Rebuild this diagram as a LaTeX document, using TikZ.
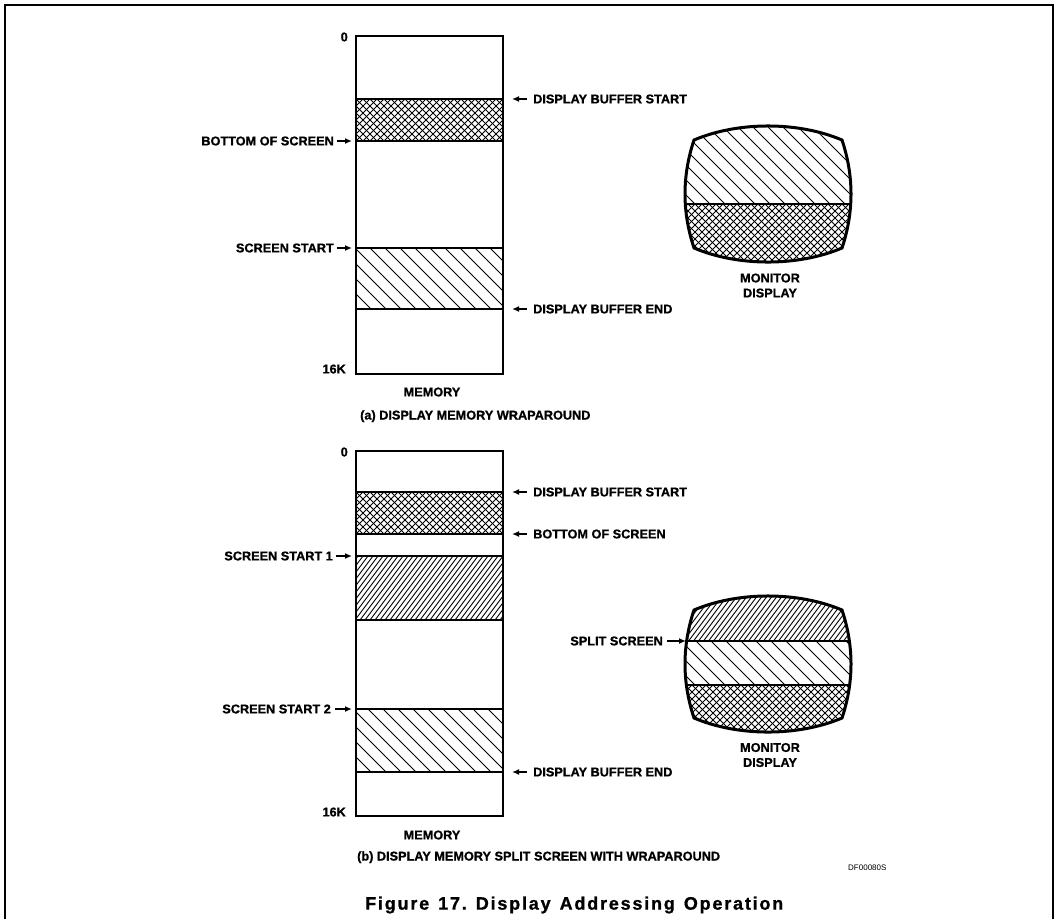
\documentclass[tikz,border=0pt]{standalone}
\usepackage{fontspec}
\setmainfont{Liberation Sans}
\newfontfamily\heavy{Liberation Sans}[BoldFeatures={FakeBold=1}]
\usetikzlibrary{arrows.meta}

% Fill a clipped region with parallel lines.
% #1 clip path, #2 xmin, #3 xmax, #4 ytop, #5 ybottom, #6 spacing, #7 slope (dx per dy)
\newcommand\hatchfill[7]{%
  \begin{scope}
    \clip #1;
    \pgfmathsetmacro\hH{#5-#4}%
    \pgfmathsetmacro\hS{abs(#7)*\hH+#6}%
    \pgfmathsetmacro\kA{#2-\hS}%
    \pgfmathsetmacro\kB{\kA+#6}%
    \pgfmathsetmacro\kC{#3+\hS}%
    \foreach \k in {\kA,\kB,...,\kC}
      \draw[hl] (\k,#4) -- ++({#7*\hH},\hH);
  \end{scope}}

% Rounded monitor face centred on (#1,#2)
\newcommand\tvpath[2]{(#1-74,#2-54) .. controls (#1-30,#2-72.7) and (#1+30,#2-72.7) .. (#1+74,#2-54)
  .. controls (#1+86,#2-18) and (#1+86,#2+18) .. (#1+74,#2+54)
  .. controls (#1+30,#2+72.7) and (#1-30,#2+72.7) .. (#1-74,#2+54)
  .. controls (#1-86,#2+18) and (#1-86,#2-18) .. cycle}

\begin{document}
\begin{tikzpicture}[x=1pt,y=-1pt,
  lab/.style={font=\fontsize{12.7}{15}\selectfont\heavy\bfseries, inner sep=0pt},
  small/.style={font=\fontsize{8}{9}\selectfont, inner sep=0pt},
  ptr/.style={-{Latex[length=7pt,width=6pt]}, line width=1.5pt},
  wall/.style={line width=1.7pt},
  tv/.style={line width=3pt},
  hl/.style={line width=0.9pt},
]
\useasboundingbox (0,0) rectangle (1056,919);

% outer frame, open at the bottom
\draw[line width=2pt] (5,919) -- (5,5) -- (1053,5) -- (1053,919);

% ---------------- (a) memory column ----------------
\hatchfill{(356,99) rectangle (503,141)}{356}{503}{99}{141}{7}{1}
\hatchfill{(356,99) rectangle (503,141)}{356}{503}{99}{141}{7}{-1}
\hatchfill{(356,248) rectangle (503,309)}{356}{503}{248}{309}{15}{1}
\draw[wall] (356,36) rectangle (503,374);
\draw[wall] (356,99) -- (503,99) (356,141) -- (503,141)
            (356,248) -- (503,248) (356,309) -- (503,309);

\node[lab, anchor=east] (a0) at (348,37) {0};
\node[lab, anchor=east] (a16) at (346,369) {16K};
\node[lab] (amem) at (432,392) {MEMORY};
\node[lab, anchor=base west] (acap) at (360,419.5) {(a) DISPLAY MEMORY WRAPAROUND};

\coordinate (a-dbs) at (503,99);
\coordinate (a-bos) at (356,141);
\coordinate (a-ss) at (356,248);
\coordinate (a-dbe) at (503,309);

\node[lab, anchor=west] (adbs) at (533,99) {DISPLAY BUFFER START};
\node[lab, anchor=east] (abos) at (334,141) {BOTTOM OF SCREEN};
\node[lab, anchor=east] (ass) at (334,248) {SCREEN START};
\node[lab, anchor=west] (adbe) at (533,309) {DISPLAY BUFFER END};

\draw[ptr] ([xshift=-6pt]adbs.west) -- ([xshift=9pt]a-dbs);
\draw[ptr] ([xshift=3pt]abos.east) -- ([xshift=-4pt]a-bos);
\draw[ptr] ([xshift=3pt]ass.east) -- ([xshift=-4pt]a-ss);
\draw[ptr] ([xshift=-6pt]adbe.west) -- ([xshift=9pt]a-dbe);

% (a) monitor
\begin{scope}
  \clip \tvpath{768}{194};
  \hatchfill{(680,110) rectangle (860,204)}{680}{860}{110}{204}{15}{1}
  \hatchfill{(680,204) rectangle (860,280)}{680}{860}{204}{280}{7}{1}
  \hatchfill{(680,204) rectangle (860,280)}{680}{860}{204}{280}{7}{-1}
  \draw[wall] (680,204) -- (860,204);
\end{scope}
\draw[tv] \tvpath{768}{194};
\node[lab, align=center] (amon) at (770,285.5) {MONITOR\\DISPLAY};

% ---------------- (b) memory column ----------------
\hatchfill{(356,492) rectangle (503,534)}{356}{503}{492}{534}{7}{1}
\hatchfill{(356,492) rectangle (503,534)}{356}{503}{492}{534}{7}{-1}
\hatchfill{(356,556) rectangle (503,620)}{356}{503}{556}{620}{5}{-0.75}
\hatchfill{(356,709) rectangle (503,772)}{356}{503}{709}{772}{15}{1}
\draw[wall] (356,451) rectangle (503,816);
\draw[wall] (356,492) -- (503,492) (356,534) -- (503,534)
            (356,556) -- (503,556) (356,620) -- (503,620)
            (356,709) -- (503,709) (356,772) -- (503,772);

\node[lab, anchor=east] (b0) at (348,452) {0};
\node[lab, anchor=east] (b16) at (346,812) {16K};
\node[lab] (bmem) at (432,835) {MEMORY};
\node[lab, anchor=base west] (bcap) at (357,860.5) {(b) DISPLAY MEMORY SPLIT SCREEN WITH WRAPAROUND};

\coordinate (b-dbs) at (503,492);
\coordinate (b-bos) at (503,534);
\coordinate (b-ss1) at (356,556);
\coordinate (b-ss2) at (356,709);
\coordinate (b-dbe) at (503,772);

\node[lab, anchor=west] (bdbs) at (533,492) {DISPLAY BUFFER START};
\node[lab, anchor=west] (bbos) at (533,534) {BOTTOM OF SCREEN};
\node[lab, anchor=east] (bss1) at (333,556) {SCREEN START 1};
\node[lab, anchor=east] (bss2) at (331,709) {SCREEN START 2};
\node[lab, anchor=west] (bdbe) at (533,772) {DISPLAY BUFFER END};

\draw[ptr] ([xshift=-6pt]bdbs.west) -- ([xshift=9pt]b-dbs);
\draw[ptr] ([xshift=-6pt]bbos.west) -- ([xshift=9pt]b-bos);
\draw[ptr] ([xshift=3pt]bss1.east) -- ([xshift=-4pt]b-ss1);
\draw[ptr] ([xshift=4pt]bss2.east) -- ([xshift=-4pt]b-ss2);
\draw[ptr] ([xshift=-6pt]bdbe.west) -- ([xshift=9pt]b-dbe);

% (b) monitor with split screen
\begin{scope}
  \clip \tvpath{768}{664};
  \hatchfill{(680,580) rectangle (860,641)}{680}{860}{580}{641}{5}{-0.75}
  \hatchfill{(680,641) rectangle (860,685)}{680}{860}{641}{685}{15}{1}
  \hatchfill{(680,685) rectangle (860,750)}{680}{860}{685}{750}{7}{1}
  \hatchfill{(680,685) rectangle (860,750)}{680}{860}{685}{750}{7}{-1}
  \draw[wall] (680,641) -- (860,641) (680,685) -- (860,685);
\end{scope}
\draw[tv] \tvpath{768}{664};
\coordinate (b-split) at (686,641);
\node[lab, anchor=east] (bsplit) at (663,641) {SPLIT SCREEN};
\draw[ptr] ([xshift=4pt]bsplit.east) -- (b-split);
\node[lab, align=center] (bmon) at (770,755) {MONITOR\\DISPLAY};

% drawing number and figure title
\node[small, anchor=west] (dfno) at (848,868) {DF00080S};
\node[font=\fontsize{18}{21}\selectfont\heavy\bfseries\addfontfeatures{LetterSpace=10}, inner sep=0pt, anchor=west] (title) at (365,905)
  {Figure\hspace{9pt}17.\hspace{9pt}Display\hspace{9pt}Addressing\hspace{9pt}Operation};

\end{tikzpicture}
\end{document}
